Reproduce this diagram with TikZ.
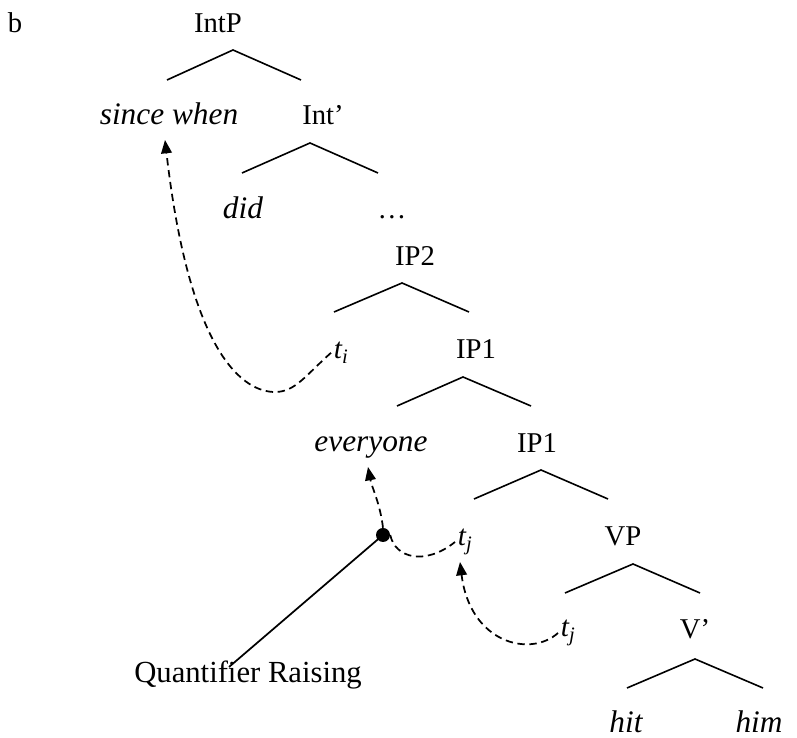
\documentclass[tikz,border=0pt]{standalone}
\usepackage{fontspec}
\setmainfont{Liberation Serif}
\usetikzlibrary{arrows.meta}
\begin{document}
\begin{tikzpicture}[x=0.75pt,y=0.75pt,
  lbl/.style={anchor=base,inner sep=2pt,font=\fontsize{21.5}{26}\selectfont},
  word/.style={lbl,font=\fontsize{23.5}{28}\selectfont\itshape},
  trace/.style={anchor=base west,inner sep=2pt,font=\fontsize{22}{26}\selectfont\itshape},
  branch/.style={line width=1.2pt},
  move/.style={line width=1.3pt,dash pattern=on 5.5pt off 3.5pt,-{Triangle[length=10pt,width=8pt]}},
  link/.style={line width=1.3pt,dash pattern=on 5.5pt off 3.5pt}]
\useasboundingbox (0,0) rectangle (797,738);

% panel letter
\node[lbl] (b) at (15,705) {b};

% tree labels
\node[lbl]  (IntP) at (218,705) {IntP};
\node[word] (sw)   at (169,613) {since when};
\node[lbl]  (Int)  at (323,613) {Int’};
\node[word] (did)  at (243,519) {did};
\node[lbl]  (dots) at (392,519) {…};
\node[lbl]  (IPii) at (415,472) {IP2};
\node[trace] (ti)  at (331,379) {t\textsubscript{i}};
\node[lbl]  (IPa)  at (476,379) {IP1};
\node[word] (ev)   at (371,286) {everyone};
\node[lbl]  (IPb)  at (537,285) {IP1};
\node[trace] (tju) at (455,192) {t\textsubscript{j}};
\node[lbl]  (VP)   at (623,192) {VP};
\node[trace] (tjl) at (558,101) {t\textsubscript{j}};
\node[lbl]  (Vb)   at (695,99)  {V’};
\node[word] (hit)  at (626,5)   {hit};
\node[word] (him)  at (759,5)   {him};
\node[lbl,font=\fontsize{23}{27}\selectfont] (QR) at (248,55) {Quantifier Raising};

% branches
\draw[branch] (167,658) -- (233,688) -- (301,658);
\draw[branch] (242,565) -- (310,595) -- (378,565);
\draw[branch] (334,426) -- (402,455) -- (469,426);
\draw[branch] (397,332) -- (463,361) -- (531,332);
\draw[branch] (474,239) -- (541,268) -- (608,239);
\draw[branch] (565,145) -- (633,174) -- (700,145);
\draw[branch] (627,50)  -- (695,79)  -- (763,50);

% landing point of quantifier raising
\node[circle,fill=black,inner sep=0pt,minimum size=10.5pt] (dot) at (383,203) {};
\coordinate (qrend) at (229,71);
\draw[line width=1.3pt] (dot.center) -- (qrend);

% movement arrows
\draw[move] (ti.west) .. controls (305,362) and (295,346) .. (275,346)
  .. controls (245,346) and (190,380) .. (165,598);
\draw[move] (dot.north) .. controls (380,235) and (372,250) .. (368,271);
\draw[link] (dot.east) .. controls (395,180) and (425,172) .. (tju.west);
\draw[move] (tjl.west) .. controls (530,80) and (470,95) .. (460,176);
\end{tikzpicture}
\end{document}
